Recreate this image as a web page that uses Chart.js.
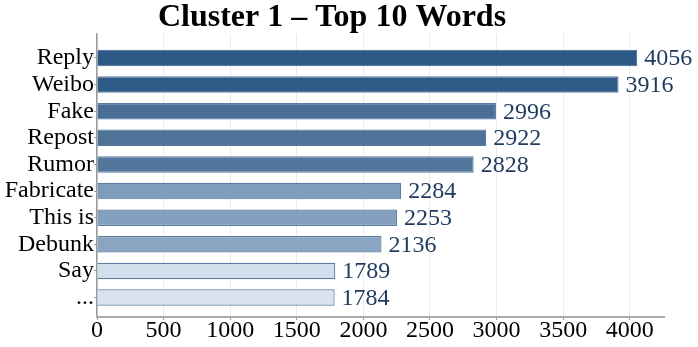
<!DOCTYPE html>
<html>
<head>
<meta charset="utf-8">
<script src="https://cdn.jsdelivr.net/npm/chart.js@4/dist/chart.umd.min.js"></script>
<style>
html,body{margin:0;padding:0;background:#fff;}
#wrap{width:698px;height:347px;position:relative;}
</style>
</head>
<body>
<div id="wrap"><canvas id="c" width="698" height="347"></canvas></div>
<script>
const chartTitle = 'Cluster 1 \u2013 Top 10 Words';
const categories = ['Reply','Weibo','Fake','Repost','Rumor','Fabricate','This is','Debunk','Say','...'];
const counts = [4056,3916,2996,2922,2828,2284,2253,2136,1789,1784];
const barColors = ['#2c5986','#2e5b87','#4a6f97','#4e7399','#53769c','#7e9cbb','#83a0be','#8aa5c1','#d1deec','#d9e4f0'];
const xTickValues = [0,500,1000,1500,2000,2500,3000,3500,4000];

const FONT = "'Liberation Serif','Times New Roman',serif";

const valueLabels = {
  id: 'valueLabels',
  afterDatasetsDraw(chart) {
    const ctx = chart.ctx;
    const meta = chart.getDatasetMeta(0);
    ctx.save();
    ctx.font = '24px ' + FONT;
    ctx.fillStyle = '#1f3a5f';
    ctx.textAlign = 'left';
    ctx.textBaseline = 'middle';
    meta.data.forEach((bar, i) => {
      ctx.fillText(String(counts[i]), bar.x + 7, bar.y + 1);
    });
    ctx.restore();
  }
};

new Chart(document.getElementById('c'), {
  type: 'bar',
  data: {
    datasets: [{
      data: counts.map((v, i) => ({x: v, y: i})),
      backgroundColor: barColors,
      borderColor: '#5a7ca3',
      borderWidth: 1.2,
      barPercentage: 0.62,
      categoryPercentage: 1
    }]
  },
  options: {
    indexAxis: 'y',
    responsive: false,
    animation: false,
    layout: {padding: {left: 0, right: 34, top: 0, bottom: 0}},
    plugins: {
      legend: {display: false},
      tooltip: {enabled: false},
      title: {
        display: true,
        text: chartTitle,
        color: '#000',
        font: {family: FONT, size: 32, weight: 'bold', lineHeight: 1.0},
        padding: {top: 2, bottom: 0}
      }
    },
    scales: {
      y: {
        type: 'linear',
        reverse: true,
        offset: false,
        bounds: 'data',
        min: -0.9,
        max: 9.73,
        afterBuildTicks: (scale) => { scale.ticks = categories.map((c, i) => ({value: i})); },
        afterFit: (scale) => { scale.width = 97; },
        ticks: {
          autoSkip: false,
          color: '#000',
          font: {family: FONT, size: 24},
          padding: 0,
          callback: (v) => categories[v]
        },
        grid: {offset: false, drawOnChartArea: false, drawTicks: true, tickLength: 3, tickColor: '#999'},
        border: {display: true, color: '#999', width: 1.5}
      },
      x: {
        type: 'linear',
        bounds: 'data',
        min: 0,
        max: 4257,
        afterBuildTicks: (scale) => { scale.ticks = xTickValues.map(v => ({value: v})); },
        afterFit: (scale) => { scale.height = 30; },
        ticks: {
          autoSkip: false,
          color: '#000',
          font: {family: FONT, size: 24},
          padding: -4,
          maxRotation: 0,
          callback: (v) => String(v)
        },
        grid: {color: '#ebebeb', lineWidth: 1, drawTicks: true, tickLength: 3, tickColor: '#999'},
        border: {display: true, color: '#aaa', width: 2}
      }
    }
  },
  plugins: [valueLabels]
});
</script>
</body>
</html>
